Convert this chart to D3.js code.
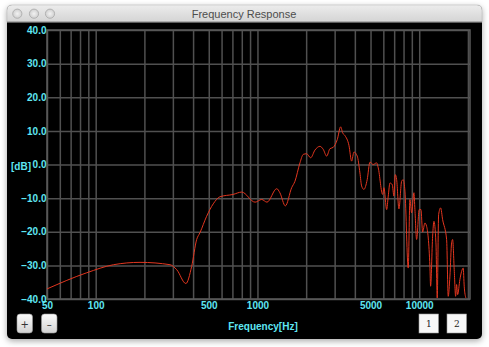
<!DOCTYPE html>
<html>
<head>
<meta charset="utf-8">
<script src="https://cdn.jsdelivr.net/npm/d3@7"></script>
<style>
  body { margin: 0; background: #ffffff; }
  svg { display: block; }
  .tick text { fill: #5fe6f2; font-family: "Liberation Sans", Arial, sans-serif; font-size: 10px; font-weight: bold; }
  .grid line { stroke: #505050; stroke-width: 1.5; }
  .grid path, .axis path, .axis line { display: none; }
</style>
</head>
<body>
<svg width="489" height="347"></svg>
<script>
/**********************
 Data
**********************/
var freqs = [50, 88, 129, 188, 288, 317, 361, 392, 421, 441, 485, 533, 586, 707, 799, 967, 1062, 1145,
  1316, 1376, 1487, 1627, 1705, 1831, 1919, 2014, 2132, 2267, 2433, 2551, 2677, 2806, 2941, 3113,
  3268, 3362, 3473, 3677, 3821, 3948, 4139, 4300, 4405, 4549, 4768, 4958, 5196, 5454, 5580, 5939,
  6050, 6289, 6435, 6592, 6811, 6976, 7107, 7250, 7491, 7785, 7964, 8160, 8551, 8760, 8974, 9271,
  9404, 9635, 10000, 10245, 10495, 10843, 11108, 11642, 11758, 12102, 12329, 12685, 12921, 13182,
  13562, 13954, 14768, 15109, 15479, 15857, 16085, 16456, 16787, 17024, 17269, 17843, 18280, 18702,
  18970, 19430];
var levels = [-37, -32.2, -29.8, -29.1, -29.8, -31.3, -35.4, -30.3, -22.3, -20.3, -15.4, -11.7, -9.6, -8.9, -8.2, -11.2, -10.4, -11.2,
  -7.2, -8.4, -12.3, -6.9, -5, 0.5, 3, 3.2, 2, 4.3, 5.4, 4.5, 2.5, 4.7, 5.1, 7.4,
  11.2, 9.4, 8.6, 5.7, 1, 3.7, 2.5, -2.5, -6.4, -7.4, -4.5, 0.7, 0, 0.5, -1, -8.9,
  -6.9, -13.4, -9.4, -5.5, -6, -9.4, -3, -4.5, -13.2, -5, -4.5, -7.9, -30.8, -10.4, -14.4, -8.4,
  -13.4, -22.3, -13.4, -13.4, -20.1, -17.4, -18.4, -30.3, -36.2, -21.3, -16.9, -23.3, -39.7, -14.9,
  -12.9, -16.4, -22.3, -39.2, -33.2, -23.3, -22.3, -31.3, -39.2, -35.7, -38.7, -34.2, -31.8, -30.8,
  -36.2, -39.7];

var freqLabels = [50, 100, 500, 1000, 5000, 10000];
var freqGrid = [50, 60, 70, 80, 90, 100, 200, 300, 400, 500, 600, 700, 800, 900, 1000,
  2000, 3000, 4000, 5000, 6000, 7000, 8000, 9000, 10000, 20000];
var dbTicks = [-40, -30, -20, -10, 0, 10, 20, 30, 40];

/**********************
 Layout
**********************/
var svg = d3.select('svg');
var plot = {l: 47, r: 470, t: 30, b: 299};

var xScale = d3.scaleLog().domain([50, 20600]).range([plot.l, plot.r]);
var yScale = d3.scaleLinear().domain([-40, 40]).range([plot.b, plot.t]);

var defs = svg.append('defs');
var shadow = defs.append('filter').attr('id', 'shadow')
    .attr('x', '-10%').attr('y', '-10%').attr('width', '120%').attr('height', '125%');
shadow.append('feDropShadow').attr('dx', 0).attr('dy', 2).attr('stdDeviation', 3)
    .attr('flood-color', '#000').attr('flood-opacity', 0.35);

var titleGrad = defs.append('linearGradient').attr('id', 'titleGrad')
    .attr('x1', 0).attr('y1', 0).attr('x2', 0).attr('y2', 1);
titleGrad.append('stop').attr('offset', '0%').attr('stop-color', '#ececec');
titleGrad.append('stop').attr('offset', '100%').attr('stop-color', '#d4d4d4');

var btnGrad = defs.append('linearGradient').attr('id', 'btnGrad')
    .attr('x1', 0).attr('y1', 0).attr('x2', 0).attr('y2', 1);
btnGrad.append('stop').attr('offset', '0%').attr('stop-color', '#fbfbfb');
btnGrad.append('stop').attr('offset', '100%').attr('stop-color', '#d2d2d2');

var lightGrad = defs.append('radialGradient').attr('id', 'lightGrad');
lightGrad.append('stop').attr('offset', '0%').attr('stop-color', '#f2f2f2');
lightGrad.append('stop').attr('offset', '100%').attr('stop-color', '#cfcfcf');

/**********************
 Window chrome
**********************/
var win = svg.append('g');
win.append('rect')
    .attr('x', 7).attr('y', 5).attr('width', 475).attr('height', 334)
    .attr('rx', 5).attr('fill', '#000').attr('filter', 'url(#shadow)');
win.append('path')
    .attr('d', 'M7,22 L7,10 Q7,5 12,5 L477,5 Q482,5 482,10 L482,22 Z')
    .attr('fill', 'url(#titleGrad)').attr('stroke', '#b5b5b5').attr('stroke-width', 0.5);
win.append('line').attr('x1', 7).attr('x2', 482).attr('y1', 22).attr('y2', 22)
    .attr('stroke', '#8a8a8a');
win.selectAll('circle.light')
    .data([17.3, 34, 50])
    .enter().append('circle')
    .attr('class', 'light')
    .attr('cx', function(d) { return d; }).attr('cy', 13.7).attr('r', 4.6)
    .attr('fill', 'url(#lightGrad)').attr('stroke', '#a8a8a8').attr('stroke-width', 0.8);
win.append('text')
    .attr('x', 244).attr('y', 18)
    .attr('text-anchor', 'middle')
    .attr('font-family', '"Liberation Sans", Arial, sans-serif')
    .attr('font-size', '11px')
    .attr('fill', '#4d4d4d')
    .text('Frequency Response');

/**********************
 Grid and axes
**********************/
svg.append('g')
    .attr('class', 'grid')
    .attr('transform', 'translate(0,' + plot.b + ')')
    .call(d3.axisBottom(xScale).tickValues(freqGrid).tickSize(-(plot.b - plot.t)).tickFormat(''));
svg.append('g')
    .attr('class', 'grid')
    .attr('transform', 'translate(' + plot.l + ',0)')
    .call(d3.axisLeft(yScale).tickValues(dbTicks).tickSize(-(plot.r - plot.l)).tickFormat(''));
// frame edges
svg.append('rect')
    .attr('x', plot.l).attr('y', plot.t)
    .attr('width', plot.r - plot.l).attr('height', plot.b - plot.t)
    .attr('fill', 'none').attr('stroke', '#5a5a5a').attr('stroke-width', 1.5);

svg.append('g')
    .attr('class', 'axis')
    .attr('transform', 'translate(0,' + plot.b + ')')
    .call(d3.axisBottom(xScale).tickValues(freqLabels).tickSize(0).tickPadding(3).tickFormat(d3.format('d')));
svg.append('g')
    .attr('class', 'axis')
    .attr('transform', 'translate(' + (plot.l - 0.5) + ',0)')
    .call(d3.axisLeft(yScale).tickValues(dbTicks).tickSize(0).tickPadding(0).tickFormat(d3.format('.1f')));

svg.append('text')
    .attr('x', 263).attr('y', 330)
    .attr('text-anchor', 'middle')
    .attr('fill', '#5fe6f2')
    .attr('font-family', '"Liberation Sans", Arial, sans-serif')
    .attr('font-size', '10px').attr('font-weight', 'bold')
    .text('Frequency[Hz]');
svg.append('text')
    .attr('x', 11).attr('y', 170)
    .attr('fill', '#5fe6f2')
    .attr('font-family', '"Liberation Sans", Arial, sans-serif')
    .attr('font-size', '10px').attr('font-weight', 'bold')
    .text('[dB]');

/**********************
 Response curve
**********************/
var data = freqs.map(function(f, i) { return {f: f, db: levels[i]}; });
var line = d3.line()
    .x(function(d) { return xScale(d.f); })
    .y(function(d) { return yScale(d.db); })
    .curve(d3.curveMonotoneX);
svg.append('path')
    .datum(data)
    .attr('d', line)
    .attr('fill', 'none')
    .attr('stroke', '#e2361f')
    .attr('stroke-width', 1);

/**********************
 Buttons
**********************/
var zoomBtns = [{x: 17, label: '+'}, {x: 41.5, label: '\u2013'}];
var zb = svg.selectAll('g.zbtn').data(zoomBtns).enter().append('g').attr('class', 'zbtn');
zb.append('rect')
    .attr('x', function(d) { return d.x; }).attr('y', 314)
    .attr('width', 15.5).attr('height', 19).attr('rx', 3)
    .attr('fill', 'url(#btnGrad)').attr('stroke', '#9a9a9a').attr('stroke-width', 0.6);
zb.append('text')
    .attr('x', function(d) { return d.x + 7.75; }).attr('y', 327.5)
    .attr('text-anchor', 'middle')
    .attr('font-family', '"DejaVu Sans", sans-serif').attr('font-size', '10px')
    .attr('fill', '#333')
    .text(function(d) { return d.label; });

var pageBtns = [{x: 419, label: '1'}, {x: 447, label: '2'}];
var pb = svg.selectAll('g.pbtn').data(pageBtns).enter().append('g').attr('class', 'pbtn');
pb.append('rect')
    .attr('x', function(d) { return d.x; }).attr('y', 314)
    .attr('width', 19.5).attr('height', 19)
    .attr('fill', '#f7f7f7').attr('stroke', '#999').attr('stroke-width', 0.6);
pb.append('text')
    .attr('x', function(d) { return d.x + 9.75; }).attr('y', 327)
    .attr('text-anchor', 'middle')
    .attr('font-family', '"DejaVu Serif", serif').attr('font-size', '9px')
    .attr('fill', '#222')
    .text(function(d) { return d.label; });
</script>
</body>
</html>
